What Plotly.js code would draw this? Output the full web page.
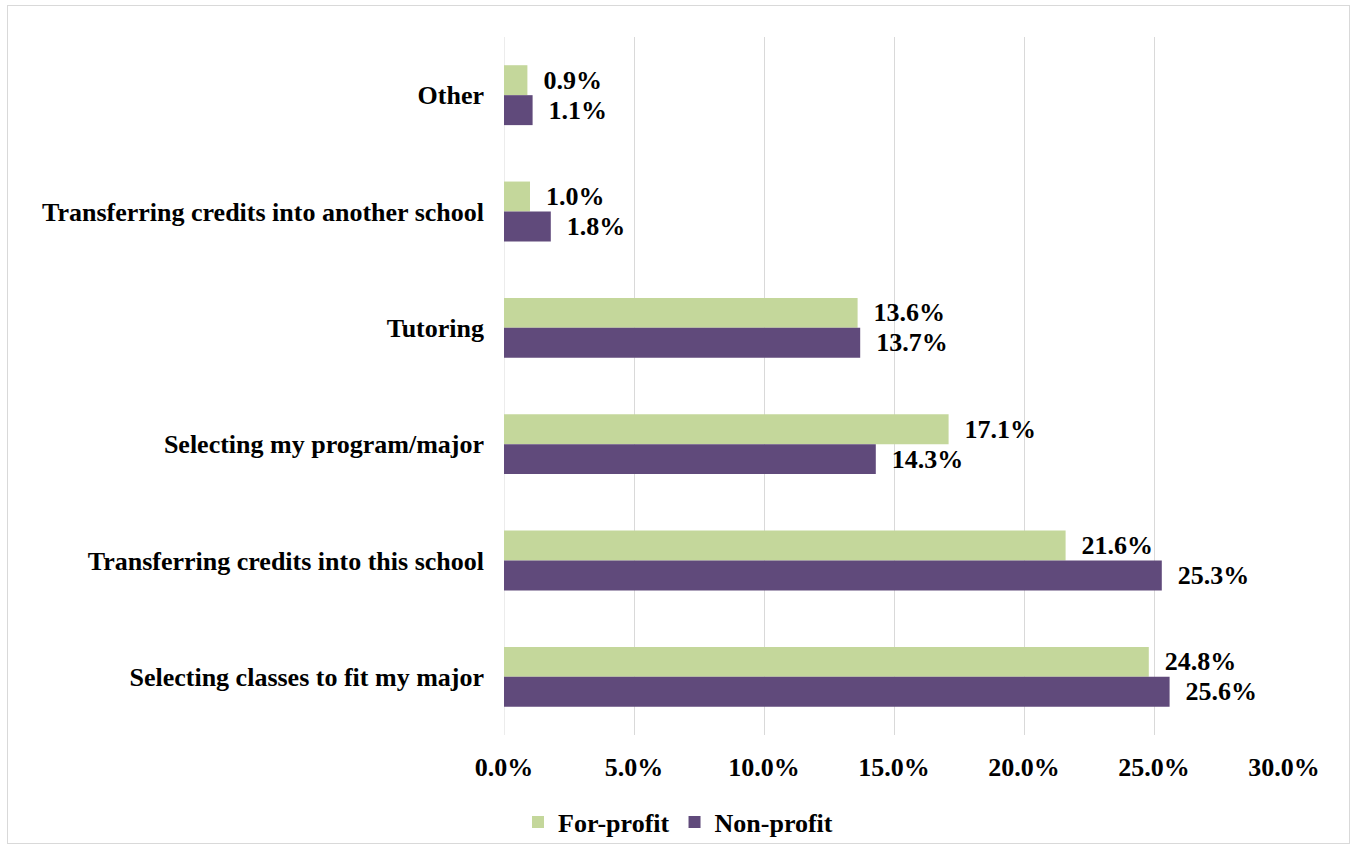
<!DOCTYPE html>
<html>
<head>
<meta charset="utf-8">
<script src="https://cdn.plot.ly/plotly-3.0.1.min.js"></script>
<style>
  html, body { margin: 0; padding: 0; background: #ffffff; }
  #wrap { position: relative; width: 1356px; height: 851px; }
  #chart { width: 1356px; height: 851px; }
  #frame { position: absolute; left: 7px; top: 5px; width: 1343px; height: 839px;
           border: 1px solid #d9d9d9; pointer-events: none; box-sizing: border-box; }
</style>
</head>
<body>
<div id="wrap">
  <div id="chart"></div>
  <div id="frame"></div>
</div>
<script>
const categories = [
  "Other",
  "Transferring credits into another school",
  "Tutoring",
  "Selecting my program/major",
  "Transferring credits into this school",
  "Selecting classes to fit my major"
];
const forProfit = [0.9, 1.0, 13.6, 17.1, 21.6, 24.8];
const nonProfit = [1.1, 1.8, 13.7, 14.3, 25.3, 25.6];
const xTickValues = [0, 5, 10, 15, 20, 25, 30];
const xTickText = xTickValues.map(v => v.toFixed(1) + "%");

const FONT = "'Liberation Serif', 'Times New Roman', serif";
const fs = 26;

const traces = [
  {
    type: "bar", orientation: "h", name: "For-profit",
    y: categories, x: forProfit,
    marker: { color: "#c4d79b" },
    texttemplate: "  %{x:.1f}%", textposition: "outside", cliponaxis: false,
    textfont: { family: FONT, size: fs, color: "#000000", weight: "bold" },
    hoverinfo: "skip"
  },
  {
    type: "bar", orientation: "h", name: "Non-profit",
    y: categories, x: nonProfit,
    marker: { color: "#604a7b" },
    texttemplate: "  %{x:.1f}%", textposition: "outside", cliponaxis: false,
    textfont: { family: FONT, size: fs, color: "#000000", weight: "bold" },
    hoverinfo: "skip"
  }
];

const layout = {
  width: 1356, height: 851,
  margin: { l: 504, r: 72, t: 37, b: 116 },
  paper_bgcolor: "#ffffff", plot_bgcolor: "#ffffff",
  barmode: "group", bargap: 0.485, bargroupgap: 0,
  font: { family: FONT, size: fs, color: "#000000", weight: "bold" },
  xaxis: {
    range: [0, 30], tickmode: "array", tickvals: xTickValues, ticktext: xTickText,
    showgrid: true, gridcolor: "#d9d9d9", gridwidth: 1,
    zeroline: false, showline: false, ticks: "",
    ticklabelstandoff: 14,
    tickfont: { family: FONT, size: fs, color: "#000000", weight: "bold" },
    fixedrange: true
  },
  yaxis: {
    type: "category", autorange: "reversed",
    showgrid: false, zeroline: false, showline: false, ticks: "",
    ticklabelstandoff: 19,
    tickfont: { family: FONT, size: fs, color: "#000000", weight: "bold" },
    fixedrange: true
  },
  shapes: [{
    type: "line", xref: "x", yref: "paper", x0: 0, x1: 0, y0: 0, y1: 1,
    line: { color: "#d9d9d9", width: 1 }, layer: "below"
  }],
  showlegend: true,
  legend: {
    orientation: "h", xref: "container", yref: "container",
    x: 0.5, xanchor: "center", y: 0.034, yanchor: "middle",
    font: { family: FONT, size: fs, color: "#000000", weight: "bold" },
    itemwidth: 30, traceorder: "normal"
  }
};

Plotly.newPlot("chart", traces, layout, { displayModeBar: false, staticPlot: true });
</script>
</body>
</html>
